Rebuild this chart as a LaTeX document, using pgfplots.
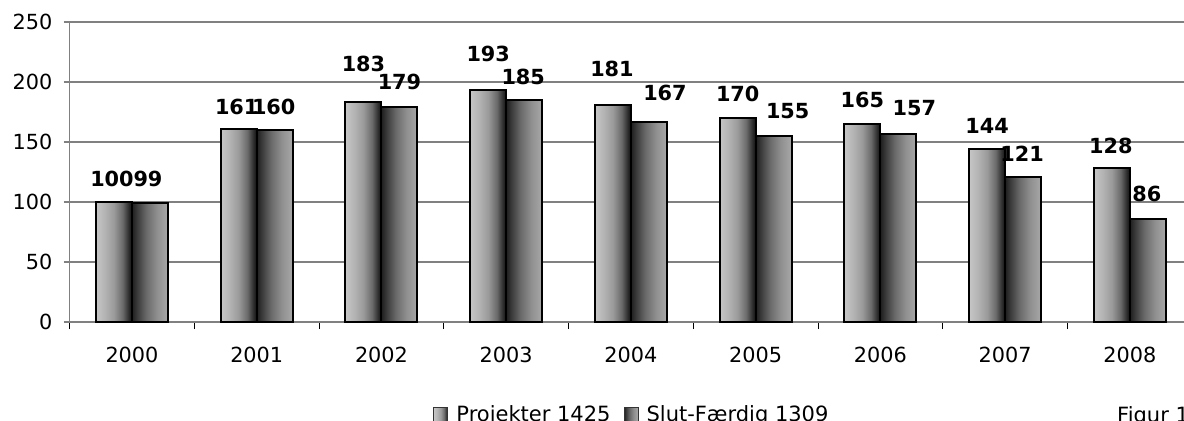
\documentclass[border=0pt]{standalone}
\usepackage{pgfplots}
\pgfplotsset{compat=1.18}
\usepackage{fontspec}
\setmainfont{DejaVu Sans}
\definecolor{gridgray}{HTML}{808080}
\definecolor{aA}{HTML}{C6C6C6}
\definecolor{aB}{HTML}{B4B4B4}
\definecolor{aC}{HTML}{9A9A9A}
\definecolor{aD}{HTML}{6A6A6A}
\definecolor{aE}{HTML}{303030}
\definecolor{aF}{HTML}{101010}
\definecolor{bA}{HTML}{1E1E1E}
\definecolor{bB}{HTML}{3A3A3A}
\definecolor{bC}{HTML}{6A6A6A}
\definecolor{bD}{HTML}{909090}
\definecolor{bE}{HTML}{A8A8A8}
\pgfdeclarehorizontalshading{barA}{100bp}{color(0bp)=(aA); color(25bp)=(aA); color(37bp)=(aB); color(50bp)=(aC); color(62bp)=(aD); color(70bp)=(aE); color(75bp)=(aF); color(100bp)=(aF)}
\pgfdeclarehorizontalshading{barB}{100bp}{color(0bp)=(bA); color(25bp)=(bA); color(32bp)=(bB); color(45bp)=(bC); color(60bp)=(bD); color(75bp)=(bE); color(100bp)=(bE)}
% one bar: {x}{value}{label dx}{label dy}
\newcommand{\barP}[4]{\addplot[forget plot, bar shift=-18bp, draw=black, line width=2bp, shade, shading=barA,
  nodes near coords, every node near coord/.append style={xshift=#3bp, yshift=#4bp}]
  coordinates {(#1,#2)};}
\newcommand{\barS}[4]{\addplot[forget plot, bar shift=18bp, draw=black, line width=2bp, shade, shading=barB,
  nodes near coords, every node near coord/.append style={xshift=#3bp, yshift=#4bp}]
  coordinates {(#1,#2)};}
\begin{document}
\begin{tikzpicture}
\path[use as bounding box, clip] (0,0) rectangle (1184bp,421bp);
\begin{axis}[
  at={(69.6bp,99bp)}, anchor=south west,
  scale only axis, width=1122.75bp, height=300bp,
  xmin=-0.5, xmax=8.5, ymin=0, ymax=250,
  enlargelimits=false,
  ybar=0pt, bar width=36bp,
  ytick={0,50,...,250},
  xtick={0,...,8},
  xticklabels={2000,2001,2002,2003,2004,2005,2006,2007,2008},
  minor xtick={-0.5,0.5,...,8.5},
  axis x line*=bottom, axis y line*=left,
  axis line style={-, draw=gridgray, line width=1.2bp},
  ymajorgrids, grid style={draw=gridgray, line width=1.2bp},
  tick align=outside,
  major tick length=6bp, minor tick length=7bp,
  major x tick style={draw=none},
  minor x tick style={draw=black, line width=1bp},
  major y tick style={draw=gridgray, line width=1.2bp},
  tick label style={font=\fontsize{20.8bp}{24bp}\selectfont},
  /pgf/number format/assume math mode=true,
  yticklabel style={anchor=east, inner sep=0pt, xshift=-11bp},
  xticklabel style={anchor=base, inner sep=0pt, yshift=-34bp},
  clip=false,
  legend image code/.code={\draw[#1, line width=1bp] (0bp,-7bp) rectangle (14bp,7bp);},
  legend style={at={(0.5,-0.3067)}, anchor=center, draw=none, fill=none,
    font=\fontsize{21bp}{24bp}\selectfont, legend columns=2,
    nodes={inner sep=0pt},
    /tikz/every odd column/.append style={column sep=8bp},
    /tikz/every even column/.append style={column sep=13bp}},
  legend cell align=left,
  every node near coord/.append style={font=\fontsize{20.8bp}{24bp}\selectfont\bfseries, anchor=center, inner sep=0pt},
]
\barP{0}{100}{-2}{23}
\barP{1}{161}{-2}{22}
\barP{2}{183}{0}{38}
\barP{3}{193}{0}{36}
\barP{4}{181}{-1}{36}
\barP{5}{170}{0}{24}
\barP{6}{165}{0}{24}
\barP{7}{144}{0}{23}
\barP{8}{128}{-1}{22}
\barS{0}{99}{-2}{24}
\barS{1}{160}{-1}{23}
\barS{2}{179}{0}{25}
\barS{3}{185}{-1}{23}
\barS{4}{167}{16}{28.6}
\barS{5}{155}{14}{25}
\barS{6}{157}{16}{25.6}
\barS{7}{121}{-1}{23}
\barS{8}{86}{-1}{25}
\addlegendimage{shade, shading=barA, draw=black!80}
\addlegendentry{Projekter 1425}
\addlegendimage{shade, shading=barB, draw=black!80}
\addlegendentry{Slut-Færdig 1309}
\end{axis}
\node[anchor=base west, inner sep=0pt, font=\fontsize{21bp}{24bp}\selectfont] at (1117bp,-1bp) {Figur 1};
\end{tikzpicture}
\end{document}
